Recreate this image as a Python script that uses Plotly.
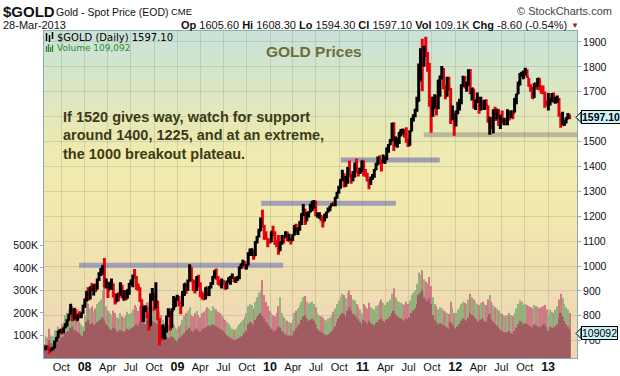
import plotly.graph_objects as go
import pandas as pd

# ---------------- DATA (weekly bars) ----------------
close_2007 = [673, 672, 662, 667, 673, 698, 711, 737, 743, 738, 752, 765, 784, 806, 833, 785, 826, 783, 803, 797, 810, 842, 866]
high_2007 = [680, 683, 673, 670, 675, 700, 715, 740, 746, 746, 753, 770, 786, 808, 847, 830, 830, 826, 806, 818, 812, 844, 869]
low_2007 = [664, 664, 648, 658, 662, 670, 697, 710, 730, 724, 730, 750, 757, 780, 805, 778, 785, 780, 780, 790, 790, 808, 832]
close_2008 = [896, 881, 915, 909, 922, 906, 947, 972, 972, 1000, 920, 934, 905, 925, 930, 886, 856, 885, 880, 925, 887, 897,
              870, 904, 930, 930, 962, 957, 925, 912, 863, 786, 833, 833, 806, 760, 865, 887, 832, 858, 786, 735, 718, 735,
              745, 797, 815, 752, 822, 837, 870, 878]
high_2008 = [900, 915, 918, 932, 925, 930, 950, 975, 992, 1003, 1032, 950, 935, 937, 950, 930, 890, 890, 895, 935, 925, 904,
             900, 907, 932, 946, 965, 988, 960, 930, 915, 866, 838, 842, 836, 806, 890, 912, 890, 935, 860, 790, 760, 765,
             755, 800, 830, 820, 830, 880, 872, 885]
low_2008 = [857, 860, 865, 900, 882, 895, 906, 940, 960, 965, 915, 910, 872, 905, 905, 874, 845, 855, 858, 880, 870, 860,
            862, 870, 885, 922, 915, 950, 905, 900, 855, 776, 775, 815, 790, 740, 760, 860, 820, 830, 782, 681, 700, 710,
            705, 733, 795, 740, 752, 822, 835, 860]
close_2009 = [853, 840, 895, 928, 914, 941, 995, 942, 940, 930, 953, 925, 897, 880, 869, 913, 885, 915, 930, 957, 980, 953,
              937, 936, 940, 931, 911, 938, 953, 953, 955, 947, 953, 955, 995, 1006, 1013, 991, 1003, 1050, 1051, 1056,
              1040, 1095, 1118, 1142, 1176, 1160, 1120, 1110, 1105, 1096]
high_2009 = [880, 842, 900, 930, 930, 946, 1007, 995, 945, 940, 960, 965, 935, 898, 890, 915, 913, 920, 935, 960, 983, 990,
             960, 945, 950, 945, 935, 942, 955, 960, 970, 958, 955, 960, 998, 1010, 1025, 1020, 1008, 1055, 1070, 1071,
             1065, 1100, 1121, 1150, 1195, 1226, 1165, 1140, 1110, 1110]
low_2009 = [838, 806, 838, 880, 888, 900, 940, 935, 900, 890, 900, 915, 875, 865, 862, 866, 880, 880, 910, 925, 950, 945,
            925, 920, 910, 925, 905, 908, 932, 925, 950, 935, 932, 940, 947, 988, 1000, 990, 986, 1002, 1040, 1040,
            1025, 1040, 1090, 1115, 1140, 1155, 1105, 1105, 1075, 1090]
close_2010 = [1138, 1130, 1090, 1083, 1060, 1093, 1120, 1117, 1133, 1102, 1107, 1103, 1125, 1161, 1136, 1151, 1179, 1209,
              1227, 1177, 1213, 1216, 1229, 1256, 1256, 1210, 1210, 1210, 1189, 1181, 1205, 1215, 1228, 1238, 1247, 1246,
              1275, 1297, 1317, 1346, 1370, 1326, 1358, 1394, 1367, 1353, 1363, 1413, 1385, 1376, 1380, 1421]
high_2010 = [1140, 1162, 1140, 1105, 1125, 1097, 1125, 1120, 1140, 1139, 1130, 1110, 1128, 1165, 1170, 1155, 1180, 1212,
             1249, 1230, 1216, 1220, 1250, 1262, 1265, 1262, 1215, 1215, 1205, 1200, 1210, 1218, 1235, 1242, 1252, 1258,
             1277, 1298, 1322, 1350, 1387, 1372, 1362, 1398, 1424, 1370, 1382, 1415, 1432, 1395, 1395, 1424]
low_2010 = [1095, 1120, 1085, 1075, 1045, 1060, 1085, 1090, 1115, 1100, 1100, 1086, 1100, 1123, 1130, 1125, 1142, 1165,
            1200, 1165, 1180, 1195, 1215, 1220, 1230, 1200, 1195, 1190, 1180, 1155, 1180, 1192, 1215, 1220, 1240, 1240,
            1240, 1270, 1290, 1310, 1340, 1315, 1318, 1330, 1357, 1330, 1340, 1356, 1375, 1360, 1370, 1378]
close_2011 = [1370, 1362, 1343, 1341, 1350, 1360, 1388, 1410, 1429, 1420, 1418, 1429, 1429, 1474, 1486, 1504, 1556, 1492,
              1492, 1509, 1536, 1542, 1543, 1539, 1500, 1486, 1542, 1594, 1601, 1628, 1663, 1744, 1852, 1828, 1880, 1856,
              1812, 1656, 1624, 1636, 1682, 1642, 1746, 1755, 1788, 1724, 1696, 1746, 1712, 1598, 1606, 1566]
high_2011 = [1423, 1390, 1375, 1348, 1360, 1370, 1390, 1415, 1440, 1445, 1425, 1448, 1440, 1476, 1490, 1510, 1575, 1577,
             1520, 1515, 1538, 1550, 1552, 1550, 1557, 1510, 1545, 1595, 1610, 1632, 1680, 1813, 1875, 1913, 1885, 1921,
             1860, 1815, 1680, 1680, 1690, 1685, 1748, 1765, 1803, 1795, 1720, 1760, 1760, 1715, 1645, 1615]
low_2011 = [1360, 1360, 1340, 1308, 1325, 1346, 1355, 1385, 1405, 1410, 1380, 1415, 1410, 1425, 1455, 1485, 1500, 1462,
            1480, 1475, 1490, 1520, 1528, 1515, 1495, 1478, 1483, 1540, 1580, 1598, 1620, 1660, 1745, 1702, 1800, 1840,
            1780, 1640, 1535, 1600, 1635, 1605, 1630, 1680, 1750, 1710, 1670, 1680, 1705, 1570, 1585, 1523]
close_2012 = [1617, 1631, 1665, 1725, 1738, 1723, 1725, 1775, 1710, 1712, 1657, 1662, 1669, 1630, 1660, 1642, 1662, 1644,
              1579, 1593, 1573, 1623, 1590, 1627, 1567, 1604, 1579, 1590, 1583, 1618, 1604, 1620, 1616, 1672, 1690, 1739,
              1772, 1772, 1776, 1781, 1759, 1724, 1712, 1676, 1731, 1714, 1752, 1712, 1702, 1696, 1657, 1656, 1656]
high_2012 = [1625, 1660, 1672, 1730, 1764, 1763, 1740, 1790, 1791, 1715, 1712, 1670, 1697, 1680, 1680, 1660, 1668, 1670,
             1645, 1600, 1595, 1630, 1640, 1630, 1630, 1606, 1625, 1595, 1595, 1630, 1625, 1625, 1625, 1675, 1692, 1740,
             1775, 1780, 1785, 1796, 1790, 1755, 1730, 1720, 1735, 1738, 1755, 1755, 1725, 1725, 1700, 1665, 1695]
low_2012 = [1560, 1610, 1625, 1650, 1720, 1713, 1700, 1725, 1690, 1665, 1632, 1627, 1655, 1612, 1625, 1628, 1627, 1630,
            1575, 1527, 1550, 1532, 1582, 1590, 1562, 1550, 1575, 1565, 1565, 1565, 1584, 1595, 1590, 1617, 1650, 1690,
            1725, 1760, 1750, 1765, 1755, 1720, 1700, 1672, 1675, 1710, 1720, 1705, 1692, 1690, 1636, 1645, 1625]
close_2013 = [1662, 1687, 1659, 1667, 1667, 1609, 1572, 1573, 1577, 1592, 1607, 1597.1]
high_2013 = [1675, 1695, 1697, 1680, 1685, 1675, 1612, 1620, 1588, 1598, 1615, 1608.3]
low_2013 = [1645, 1660, 1655, 1652, 1655, 1600, 1555, 1565, 1562, 1572, 1590, 1590]
first_open = 665

vol_base_2007 = [60, 55, 80, 65, 60, 70, 75, 85, 80, 90, 95, 110, 115, 120, 135, 140, 125, 120, 115, 110, 100, 95, 120]
vol_peak_2007 = [95, 90, 130, 100, 95, 120, 125, 140, 130, 150, 160, 190, 200, 215, 245, 230, 200, 185, 170, 160, 150, 140, 190]
vol_base_2008 = [160, 170, 150, 155, 145, 150, 160, 165, 170, 180, 165, 150, 140, 130, 125, 135, 130, 120, 115, 125, 120,
                 115, 120, 130, 125, 130, 135, 140, 150, 145, 160, 175, 165, 150, 170, 190, 185, 165, 160, 155, 150, 140,
                 130, 110, 100, 95, 90, 85, 95, 90, 80, 75]
vol_peak_2008 = [315, 240, 220, 230, 210, 220, 240, 250, 260, 300, 315, 230, 210, 200, 190, 210, 200, 180, 175, 200, 185,
                 180, 190, 205, 195, 200, 215, 235, 225, 210, 230, 245, 240, 220, 245, 250, 245, 230, 225, 220, 215, 205,
                 190, 170, 160, 150, 145, 140, 155, 150, 135, 130]
vol_base_2009 = [85, 90, 100, 110, 120, 125, 135, 120, 115, 125, 130, 120, 115, 125, 130, 135, 140, 145, 140, 150, 145,
                 140, 135, 130, 125, 120, 110, 100, 95, 90, 85, 80, 80, 85, 90, 95, 100, 110, 120, 150, 160, 155, 145,
                 170, 180, 190, 200, 185, 175, 160, 150, 140]
vol_peak_2009 = [140, 150, 170, 190, 200, 210, 225, 190, 185, 200, 210, 190, 180, 200, 205, 215, 225, 220, 210, 230, 220,
                 215, 205, 200, 190, 180, 170, 160, 150, 140, 130, 125, 130, 140, 150, 160, 170, 180, 200, 230, 240, 235,
                 220, 250, 270, 290, 300, 345, 280, 250, 230, 210]
vol_base_2010 = [130, 120, 115, 125, 140, 135, 120, 110, 105, 100, 100, 95, 100, 120, 130, 140, 150, 170, 185, 190, 175,
                 165, 170, 175, 165, 150, 130, 120, 115, 110, 105, 100, 105, 110, 115, 125, 140, 160, 175, 190, 200, 195,
                 185, 210, 225, 210, 195, 190, 180, 170, 160, 150]
vol_peak_2010 = [200, 190, 185, 200, 230, 270, 200, 180, 170, 165, 160, 155, 170, 200, 210, 220, 235, 250, 270, 275, 250,
                 240, 245, 250, 240, 225, 200, 190, 185, 180, 170, 165, 175, 180, 190, 205, 220, 240, 255, 270, 285, 280,
                 265, 290, 300, 280, 260, 255, 240, 225, 215, 200]
vol_base_2011 = [170, 160, 150, 165, 155, 150, 145, 155, 160, 170, 175, 165, 160, 170, 175, 185, 200, 210, 195, 185, 180,
                 175, 170, 165, 175, 170, 180, 200, 210, 220, 240, 280, 290, 300, 270, 260, 250, 265, 240, 190, 170, 160,
                 150, 155, 150, 145, 140, 135, 130, 160, 150, 135]
vol_peak_2011 = [240, 230, 220, 245, 225, 220, 215, 230, 235, 250, 260, 245, 235, 245, 250, 260, 285, 310, 270, 255, 250,
                 245, 240, 235, 250, 240, 255, 280, 290, 300, 330, 380, 370, 390, 350, 340, 330, 360, 320, 270, 240, 230,
                 215, 225, 220, 210, 205, 200, 195, 250, 225, 200]
vol_base_2012 = [130, 140, 150, 165, 175, 170, 165, 180, 200, 190, 185, 175, 165, 160, 170, 175, 165, 160, 180, 195, 170,
                 160, 150, 145, 135, 125, 120, 115, 110, 115, 120, 110, 105, 120, 135, 150, 165, 160, 150, 155, 150, 145,
                 140, 135, 150, 145, 140, 135, 140, 145, 150, 135, 120]
vol_peak_2012 = [200, 215, 225, 240, 250, 245, 240, 260, 285, 270, 260, 250, 240, 235, 245, 250, 240, 235, 260, 280, 250,
                 235, 225, 220, 210, 200, 195, 190, 185, 190, 200, 190, 185, 200, 220, 240, 255, 250, 235, 240, 235, 230,
                 225, 220, 235, 230, 225, 220, 225, 230, 235, 215, 195]
vol_base_2013 = [140, 135, 130, 140, 150, 175, 200, 185, 165, 150, 140, 130]
vol_peak_2013 = [215, 205, 200, 215, 230, 260, 285, 265, 240, 225, 215, 200]

last_volume = 109092
last_close = 1597.10

support_lines = [
    (1003, "2007-12-10", "2010-02-22", "#a3a1b8"),
    (1252, "2009-11-27", "2011-05-12", "#a2a0b6"),
    (1426, "2010-10-07", "2011-11-01", "#9e9cb3"),
    (1527, "2011-08-30", "2013-04-25", "#bab997"),
]

price_ticks = list(range(700, 2000, 100))
vol_tickvals = [100000, 200000, 300000, 400000, 500000]
vol_ticktext = ["100K", "200K", "300K", "400K", "500K"]
x_tickvals = ["2007-10-01", "2008-01-01", "2008-04-01", "2008-07-01", "2008-10-01", "2009-01-01", "2009-04-01",
              "2009-07-01", "2009-10-01", "2010-01-01", "2010-04-01", "2010-07-01", "2010-10-01", "2011-01-01",
              "2011-04-01", "2011-07-01", "2011-10-01", "2012-01-01", "2012-04-01", "2012-07-01", "2012-10-01",
              "2013-01-01"]
x_ticktext = ["Oct", "08", "Apr", "Jul", "Oct", "09", "Apr", "Jul", "Oct", "10", "Apr", "Jul", "Oct", "11",
              "Apr", "Jul", "Oct", "12", "Apr", "Jul", "Oct", "13"]

# ---------------- BUILD ----------------
closes = close_2007 + close_2008 + close_2009 + close_2010 + close_2011 + close_2012 + close_2013
highs = high_2007 + high_2008 + high_2009 + high_2010 + high_2011 + high_2012 + high_2013
lows = low_2007 + low_2008 + low_2009 + low_2010 + low_2011 + low_2012 + low_2013
vol_base = vol_base_2007 + vol_base_2008 + vol_base_2009 + vol_base_2010 + vol_base_2011 + vol_base_2012 + vol_base_2013
vol_peak = vol_peak_2007 + vol_peak_2008 + vol_peak_2009 + vol_peak_2010 + vol_peak_2011 + vol_peak_2012 + vol_peak_2013
n = len(closes)
weeks = pd.date_range("2007-08-01", periods=n, freq="7D")
opens = [first_open] + closes[:-1]
up = [c >= o for c, o in zip(closes, opens)]

L, R, T, B = 44, 577, 31, 358
W, H = 620, 376


def px(x):
    return (x - L) / (R - L)


def py(y):
    return (B - y) / (B - T)


ARIAL = "Arial, Liberation Sans, sans-serif"

fig = go.Figure()
week_ms = 7 * 24 * 3600 * 1000
fig.add_trace(go.Bar(x=weeks, y=[v * 1000 for v in vol_peak], width=week_ms * 0.6,
                     marker=dict(color=["#93b27e" if u else "#cf7a84" for u in up], line_width=0),
                     yaxis="y", hoverinfo="skip", showlegend=False))
fig.add_trace(go.Bar(x=weeks, y=[v * 1000 for v in vol_base], width=week_ms,
                     marker=dict(color="#a05c60", line_width=0),
                     yaxis="y", hoverinfo="skip", showlegend=False))

dn_idx = [i for i in range(n) if not up[i]]
up_idx = [i for i in range(n) if up[i]]
for idx, col in ((dn_idx, "#e8000b"), (up_idx, "#000000")):
    fig.add_trace(go.Ohlc(x=[weeks[i] for i in idx], open=[opens[i] for i in idx], high=[highs[i] for i in idx],
                          low=[lows[i] for i in idx], close=[closes[i] for i in idx], yaxis="y2",
                          increasing=dict(line=dict(color=col, width=3)),
                          decreasing=dict(line=dict(color=col, width=3)),
                          tickwidth=0.5, hoverinfo="skip", showlegend=False))

shapes = []
stops = [(31, (201, 226, 218)), (70, (212, 229, 204)), (110, (226, 231, 189)), (150, (238, 234, 176)),
         (200, (243, 233, 172)), (250, (241, 227, 175)), (300, (239, 220, 179)), (358, (236, 214, 182))]
nb = 82
for k in range(nb):
    y0 = T + (B - T) * k / nb
    y1 = T + (B - T) * (k + 1) / nb
    ym = (y0 + y1) / 2
    for j in range(len(stops) - 1):
        if stops[j][0] <= ym <= stops[j + 1][0]:
            f = (ym - stops[j][0]) / (stops[j + 1][0] - stops[j][0])
            c = tuple(round(stops[j][1][m] + f * (stops[j + 1][1][m] - stops[j][1][m])) for m in range(3))
            break
    shapes.append(dict(type="rect", xref="paper", yref="paper", x0=0, x1=1, y0=max(0, py(y1) - 0.002),
                       y1=min(1, py(y0) + 0.002), fillcolor="rgb(%d,%d,%d)" % c, line_width=0, layer="below"))
for lvl, d0, d1, col in support_lines:
    shapes.append(dict(type="line", xref="x", yref="y2", x0=d0, x1=d1, y0=lvl, y1=lvl,
                       line=dict(color=col, width=5), layer="below"))
for yv, yr, hh in ((last_close, "y2", 21), (last_volume, "y", 23000)):
    shapes.append(dict(type="path", xref="paper", yref=yr,
                       path="M %f,%f L %f,%f L %f,%f Z" % (px(576), yv, px(581), yv + hh, px(581), yv - hh),
                       fillcolor="#cdf3fb", line=dict(color="#000", width=1), layer="above"))
for xx, y0, y1 in ((46.5, 33, 41), (49.5, 35, 42), (52.5, 32, 39)):
    shapes.append(dict(type="line", xref="paper", yref="paper", x0=px(xx), x1=px(xx), y0=py(y1), y1=py(y0),
                       line=dict(color="#000", width=1.5), layer="above"))
for xx, y0 in ((46.5, 46), (48.5, 44), (50.5, 47), (52.5, 45)):
    shapes.append(dict(type="line", xref="paper", yref="paper", x0=px(xx), x1=px(xx), y0=py(52), y1=py(y0),
                       line=dict(color="#3a8a3a", width=1.4), layer="above"))

ann = []


def text(x, y, s, size, color="#000", family=ARIAL, xanchor="left", **kw):
    ann.append(dict(x=px(x), y=py(y), xref="paper", yref="paper", text=s, showarrow=False, xanchor=xanchor,
                    yanchor="middle", font=dict(size=size, color=color, family=family), borderpad=0, **kw))


text(2, 11, "<b>$GOLD</b>", 15, "#111")
text(55, 11.5, "Gold - Spot Price (EOD)", 10.5, "#111")
text(170, 12, "CME", 9.5, "#111")
text(613, 11, "© StockCharts.com", 11, "#444", xanchor="right")
text(2, 25, "28-Mar-2013", 11, "#111")
text(568, 25, "<b>Op</b> 1605.60 <b>Hi</b> 1608.30 <b>Lo</b> 1594.30 <b>Cl</b> 1597.10 <b>Vol</b> 109.1K "
              "<b>Chg</b> -8.60 (-0.54%)", 11, "#111", xanchor="right")
text(575, 25, "▼", 8, "#a8183c", xanchor="center")
text(56, 37, "$GOLD (Daily) 1597.10", 10, "#000", "DejaVu Sans")
text(56, 48, "Volume 109,092", 9, "#2e8a2e", "DejaVu Sans")
text(314, 52, "<b>GOLD Prices</b>", 15.5, "#6f6c3a", xanchor="center")
for yy, s in ((116.5, "If 1520 gives way, watch for support"),
              (135, "around 1400, 1225, and at an extreme,"),
              (153.5, "the 1000 breakout plateau.")):
    text(62, yy, "<b>%s</b>" % s, 14.5, "#3b3b14")

ann.append(dict(x=px(580.5), y=last_close, xref="paper", yref="y2", text="<b>1597.10</b>", showarrow=False,
                xanchor="left", yanchor="middle", bgcolor="#cdf3fb", bordercolor="#000", borderwidth=1, borderpad=0,
                font=dict(size=10.5, color="#000", family=ARIAL)))
ann.append(dict(x=px(580.5), y=last_volume, xref="paper", yref="y", text="109092", showarrow=False,
                xanchor="left", yanchor="middle", bgcolor="#cdf3fb", bordercolor="#000", borderwidth=1, borderpad=0,
                font=dict(size=10.5, color="#000", family=ARIAL)))

x_ticktext_fmt = ["<b><span style='font-size:12.5px'>%s</span></b>" % t if t.isdigit() else t for t in x_ticktext]

fig.update_layout(
    width=W, height=H, margin=dict(l=L, r=W - R, t=T, b=H - B, pad=0, autoexpand=False), autosize=False,
    paper_bgcolor="#ffffff", plot_bgcolor="rgba(0,0,0,0)", barmode="overlay", showlegend=False,
    font=dict(family=ARIAL, size=11, color="#111"),
    xaxis=dict(type="date", range=["2007-07-25", "2013-04-25"], tickmode="array", tickvals=x_tickvals,
               ticktext=x_ticktext_fmt, showgrid=True, gridcolor="rgba(80,100,70,0.17)", gridwidth=1,
               showline=True, mirror=True, linecolor="#8fa9b0", linewidth=1, ticks="", zeroline=False,
               ticklabelstandoff=-1, automargin=False,
               tickfont=dict(size=11, color="#111", family=ARIAL), rangeslider=dict(visible=False)),
    yaxis=dict(range=[0, 1453000], tickmode="array", tickvals=vol_tickvals, ticktext=vol_ticktext, side="left",
               showgrid=False, zeroline=False, ticks="outside", ticklen=3, tickcolor="#8fa9b0", automargin=False,
               showline=True, linecolor="#8fa9b0", tickfont=dict(size=10.5, color="#111", family=ARIAL)),
    yaxis2=dict(range=[630.5, 1944], overlaying="y", side="right", tickmode="array", tickvals=price_ticks,
                showgrid=True, gridcolor="rgba(80,100,70,0.17)", zeroline=False, ticks="outside", ticklen=3,
                tickcolor="#8fa9b0", showline=True, linecolor="#8fa9b0", automargin=False,
                tickfont=dict(size=10.5, color="#111", family=ARIAL)),
    shapes=shapes, annotations=ann,
)

fig.write_html("out.html", post_script="document.body.style.margin='0px';document.body.style.overflow='hidden';",
               config={"displayModeBar": False})
